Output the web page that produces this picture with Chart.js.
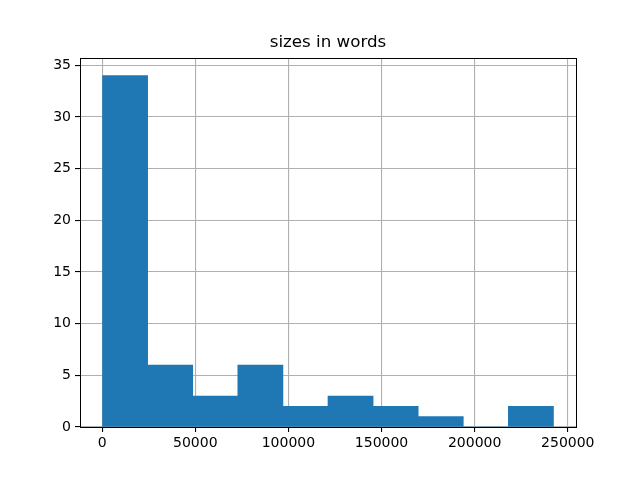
<!DOCTYPE html>
<html>
<head>
<meta charset="utf-8">
<script src="https://cdn.jsdelivr.net/npm/chart.js@4/dist/chart.umd.min.js"></script>
<style>
  body { margin: 0; background: #fff; }
  #wrap { width: 640px; height: 480px; }
</style>
</head>
<body>
<div id="wrap"><canvas id="histChart" width="640" height="480"></canvas></div>
<script>
// Histogram bin edges (words) and counts
const binEdges = [200, 24410, 48620, 72830, 97040, 121250, 145460, 169670, 193880, 218090, 242300];
const counts = [34, 6, 3, 6, 2, 3, 2, 1, 0, 2];
const xTicks = [0, 50000, 100000, 150000, 200000, 250000];
const yTicks = [0, 5, 10, 15, 20, 25, 30, 35];
const chartTitle = "sizes in words";

// bars centred in each bin
const barData = counts.map((c, i) => ({ x: (binEdges[i] + binEdges[i + 1]) / 2, y: c }));

// matplotlib-style 5% margins
const span = binEdges[binEdges.length - 1] - binEdges[0];
const xMin = binEdges[0] - span * 0.05;
const xMax = binEdges[binEdges.length - 1] + span * 0.05;
const yMax = Math.max(...counts) * 1.05;

const tickFont = { family: "DejaVu Sans", size: 14 };

// axes frame (all four spines)
const frame = {
  id: "frame",
  afterDraw(chart) {
    const { ctx, chartArea: a } = chart;
    ctx.save();
    ctx.strokeStyle = "#000";
    ctx.lineWidth = 1;
    ctx.strokeRect(Math.round(a.left) + 0.5, Math.round(a.top) + 0.5,
      Math.round(a.right - a.left), Math.round(a.bottom - a.top));
    ctx.restore();
  },
};

new Chart(document.getElementById("histChart"), {
  type: "bar",
  data: {
    datasets: [
      {
        data: barData,
        backgroundColor: "#1f77b4",
        borderWidth: 0,
        barPercentage: 1,
        categoryPercentage: 1,
      },
    ],
  },
  options: {
    responsive: false,
    animation: false,
    layout: { padding: { left: 0, right: 64, top: 0, bottom: 0 } },
    plugins: {
      legend: { display: false },
      tooltip: { enabled: false },
      title: {
        display: true,
        text: chartTitle,
        fullSize: false,
        color: "#000",
        font: { family: "DejaVu Sans", size: 16.7, weight: "normal" },
        padding: { top: 33, bottom: 5 },
      },
    },
    scales: {
      x: {
        type: "linear",
        min: xMin,
        max: xMax,
        offset: false,
        z: 1,
        afterBuildTicks: (s) => { s.ticks = xTicks.map((v) => ({ value: v })); },
        afterFit: (s) => { s.height = 53; },
        grid: { offset: false, color: "#b0b0b0", lineWidth: 1.1, tickColor: "#000", tickLength: 5 },
        border: { display: false },
        ticks: { color: "#000", font: tickFont, padding: 3, maxRotation: 0, callback: (v) => String(v) },
      },
      y: {
        min: 0,
        max: yMax,
        z: 1,
        afterBuildTicks: (s) => { s.ticks = yTicks.map((v) => ({ value: v })); },
        afterFit: (s) => { s.width = 80; },
        grid: { color: "#b0b0b0", lineWidth: 1.1, tickColor: "#000", tickLength: 5 },
        border: { display: false },
        ticks: { color: "#000", font: tickFont, padding: 4, callback: (v) => String(v) },
      },
    },
  },
  plugins: [frame],
});
</script>
</body>
</html>
